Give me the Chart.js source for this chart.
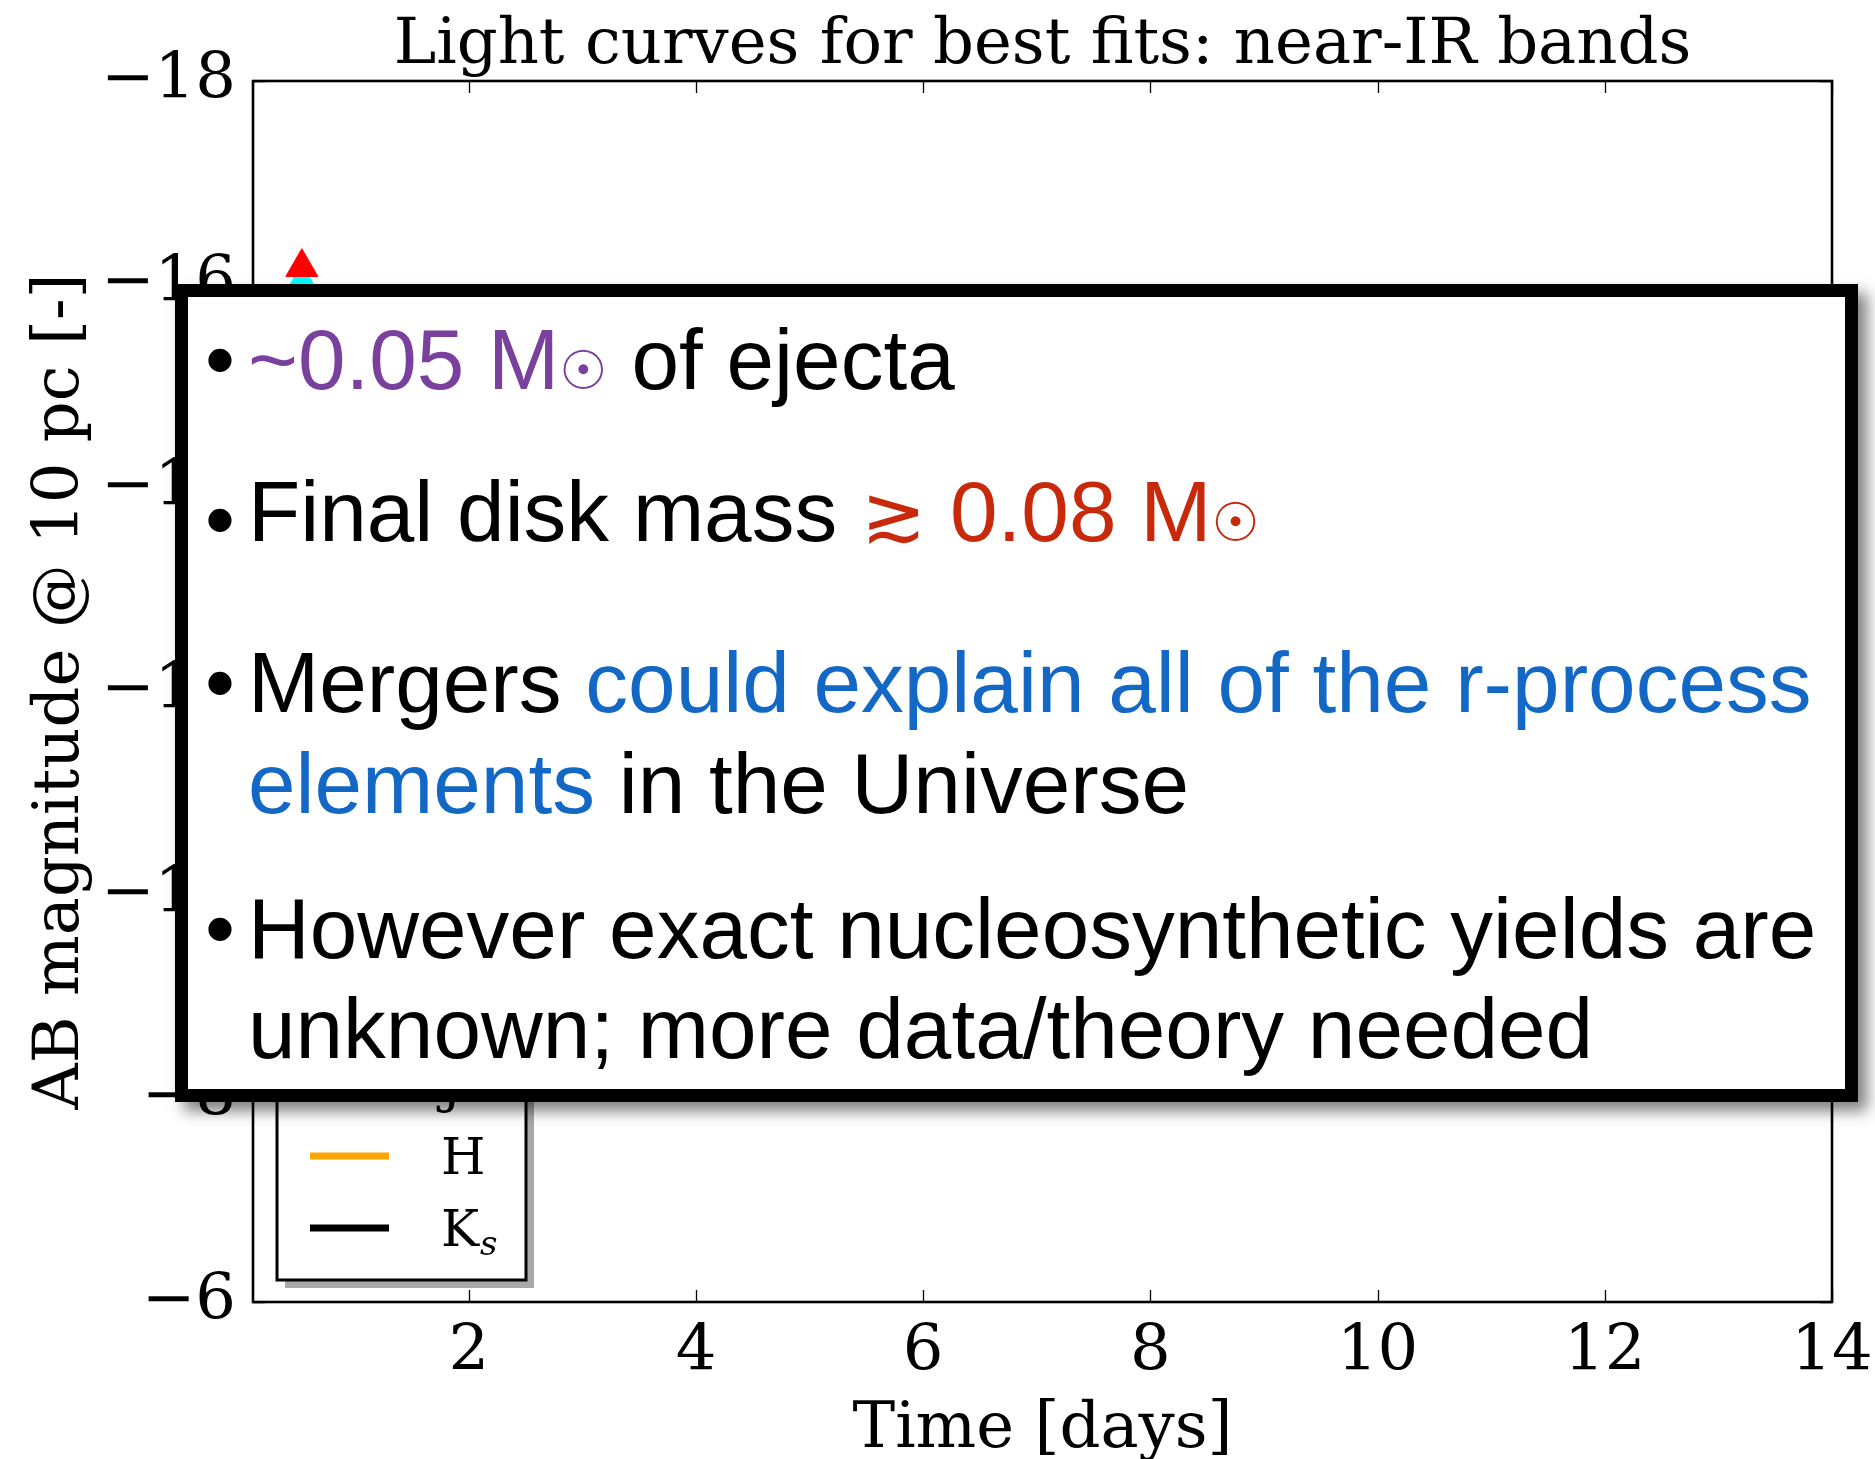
<!DOCTYPE html>
<html>
<head>
<meta charset="utf-8">
<script src="https://cdn.jsdelivr.net/npm/chart.js@4.4.1/dist/chart.umd.min.js"></script>
<style>
  html, body { margin: 0; padding: 0; background: #fff; }
  #wrap { position: relative; width: 1875px; height: 1459px; overflow: hidden; }
  #chart { position: absolute; left: 0; top: 0; }
  .note {
    position: absolute; left: 175px; top: 284px; width: 1683px; height: 818px;
    box-sizing: border-box; border: 13px solid #000; background: #fff;
    box-shadow: 9px 9px 14px rgba(0,0,0,0.5);
    font-family: "Liberation Sans", Arial, Helvetica, sans-serif; font-size: 85.5px; color: #000;
  }
  .line { position: absolute; left: 60px; white-space: nowrap; line-height: 100px; }
  .dot { position: absolute; left: -43px; }
  .purple { color: #7a409e; }
  .red { color: #c8290a; }
  .blue { color: #1268c4; }
  .sun { font-family: "DejaVu Sans", sans-serif; font-size: 54px; }
  .sym { font-family: "DejaVu Sans", sans-serif; font-size: 78px; }
</style>
</head>
<body>
<div id="wrap">
  <canvas id="chart" width="1875" height="1459"></canvas>
  <div class="note">
    <div class="line" style="top:13px"><span class="dot">•</span><span class="purple">~0.05 M<span class="sun">☉</span></span> of ejecta</div>
    <div class="line" style="top:165px"><span class="dot" style="top:8px">•</span>Final disk mass <span class="red"><span class="sym">≳</span> 0.08 M<span class="sun">☉</span></span></div>
    <div class="line" style="top:336px"><span class="dot">•</span>Mergers <span class="blue">could explain all of the r-process</span></div>
    <div class="line" style="top:437px"><span class="blue">elements</span> in the Universe</div>
    <div class="line" style="top:582px"><span class="dot">•</span>However exact nucleosynthetic yields are</div>
    <div class="line" style="top:682px">unknown; more data/theory needed</div>
  </div>
</div>
<script>
  // --- data ---
  const xTicks = [2, 4, 6, 8, 10, 12, 14];
  const yTicks = [-18, -16, -14, -12, -10, -8, -6];

  // the two observed points peeking out above the box
  const obsTime = [0.53];
  const obsMagRed = [-16.17];
  const obsMagCyan = [-16.02];

  // model light curves: completely covered by the summary box, nothing to read
  const bandNames = ['J', 'H', 'Ks'];
  const curveJ = [];
  const curveH = [];
  const curveKs = [];

  const serif = '"DejaVu Serif", serif';
  const fmt = v => (v < 0 ? '\u2212' + Math.abs(v) : String(v));

  // --- frame, inside ticks, titles and legend ---
  const decor = {
    id: 'decor',
    afterDraw(chart) {
      const { ctx, chartArea: a, scales } = chart;
      ctx.save();

      // inside ticks on all four sides
      ctx.strokeStyle = '#000';
      ctx.lineWidth = 1.3;
      ctx.beginPath();
      xTicks.forEach(v => {
        const px = Math.round(scales.x.getPixelForValue(v)) + 0.5;
        ctx.moveTo(px, a.bottom); ctx.lineTo(px, a.bottom - 12);
        ctx.moveTo(px, a.top); ctx.lineTo(px, a.top + 12);
      });
      yTicks.forEach(v => {
        const py = Math.round(scales.y.getPixelForValue(v)) + 0.5;
        ctx.moveTo(a.left, py); ctx.lineTo(a.left + 12, py);
        ctx.moveTo(a.right, py); ctx.lineTo(a.right - 12, py);
      });
      ctx.stroke();

      ctx.lineWidth = 2.6;
      ctx.strokeRect(a.left, a.top, a.right - a.left, a.bottom - a.top);

      // titles
      ctx.fillStyle = '#000';
      ctx.font = '64px ' + serif;
      ctx.textAlign = 'center';
      ctx.textBaseline = 'alphabetic';
      const cx = (a.left + a.right) / 2;
      ctx.fillText('Light curves for best fits: near-IR bands', cx, 63);
      ctx.fillText('Time [days]', cx, 1447);
      ctx.save();
      ctx.translate(78, (a.top + a.bottom) / 2);
      ctx.rotate(-Math.PI / 2);
      ctx.fillText('AB magnitude @ 10 pc [-]', 0, 0);
      ctx.restore();

      // legend box, lower left
      const lines = chart.data.datasets.filter(d => d.showLine);
      const lx = a.left + 24, lw = 249, bottom = a.bottom - 22;
      const step = 72, lastBase = bottom - 34;
      const top = lastBase - step * (lines.length - 1) - 37 - 30;
      ctx.fillStyle = '#a8a8a8';
      ctx.fillRect(lx + 8, top + 8, lw, bottom - top);
      ctx.fillStyle = '#fff';
      ctx.fillRect(lx, top, lw, bottom - top);
      ctx.lineWidth = 3;
      ctx.strokeStyle = '#000';
      ctx.strokeRect(lx, top, lw, bottom - top);

      ctx.textAlign = 'left';
      lines.forEach((d, i) => {
        const base = lastBase - step * (lines.length - 1 - i);
        const midY = base - 18;
        ctx.strokeStyle = d.borderColor;
        ctx.lineWidth = 7;
        ctx.beginPath();
        ctx.moveTo(lx + 33, midY); ctx.lineTo(lx + 112, midY);
        ctx.stroke();
        ctx.fillStyle = '#000';
        ctx.font = '51px ' + serif;
        const name = d.label;
        ctx.fillText(name[0], lx + 164, base);
        if (name.length > 1) {
          const w = ctx.measureText(name[0]).width;
          ctx.font = 'italic 34px ' + serif;
          ctx.fillText(name.slice(1), lx + 164 + w + 1, base + 9);
        }
      });
      ctx.restore();
    }
  };

  const pts = ys => obsTime.map((t, i) => ({ x: t, y: ys[i] }));
  const curve = c => c.map(p => ({ x: p[0], y: p[1] }));

  new Chart(document.getElementById('chart'), {
    type: 'scatter',
    data: {
      datasets: [
        { label: 'obs red', data: pts(obsMagRed), order: 0, pointStyle: 'triangle', pointRadius: 18.5,
          backgroundColor: '#ff0000', borderColor: '#ff0000', borderWidth: 1 },
        { label: 'obs cyan', data: pts(obsMagCyan), order: 1, pointStyle: 'triangle', pointRadius: 18.5,
          backgroundColor: '#00ffff', borderColor: '#00ffff', borderWidth: 1 },
        { label: bandNames[0], data: curve(curveJ), showLine: true, pointRadius: 0, borderColor: '#00c8c8', borderWidth: 4 },
        { label: bandNames[1], data: curve(curveH), showLine: true, pointRadius: 0, borderColor: '#ffa500', borderWidth: 4 },
        { label: bandNames[2], data: curve(curveKs), showLine: true, pointRadius: 0, borderColor: '#000000', borderWidth: 4 }
      ]
    },
    options: {
      responsive: false,
      animation: false,
      devicePixelRatio: 1,
      layout: { padding: { left: 0, top: 81, right: 43, bottom: 0 } },
      plugins: { legend: { display: false }, tooltip: { enabled: false }, title: { display: false } },
      scales: {
        x: {
          type: 'linear', min: 0.1, max: 14,
          afterBuildTicks: s => { s.ticks = xTicks.map(v => ({ value: v })); },
          afterFit: s => { s.height = 157; s.paddingLeft = 0; s.paddingRight = 0; },
          grid: { display: false, drawTicks: false },
          border: { display: false },
          ticks: { font: { family: 'DejaVu Serif', size: 64 }, color: '#000', padding: 13, maxRotation: 0, autoSkip: false, callback: fmt }
        },
        y: {
          type: 'linear', reverse: true, min: -18, max: -6,
          afterBuildTicks: s => { s.ticks = yTicks.map(v => ({ value: v })); },
          afterFit: s => { s.width = 253; s.paddingTop = 0; s.paddingBottom = 0; },
          grid: { display: false, drawTicks: false },
          border: { display: false },
          ticks: { font: { family: 'DejaVu Serif', size: 64 }, color: '#000', padding: 17, autoSkip: false, callback: fmt }
        }
      }
    },
    plugins: [decor]
  });
</script>
</body>
</html>
